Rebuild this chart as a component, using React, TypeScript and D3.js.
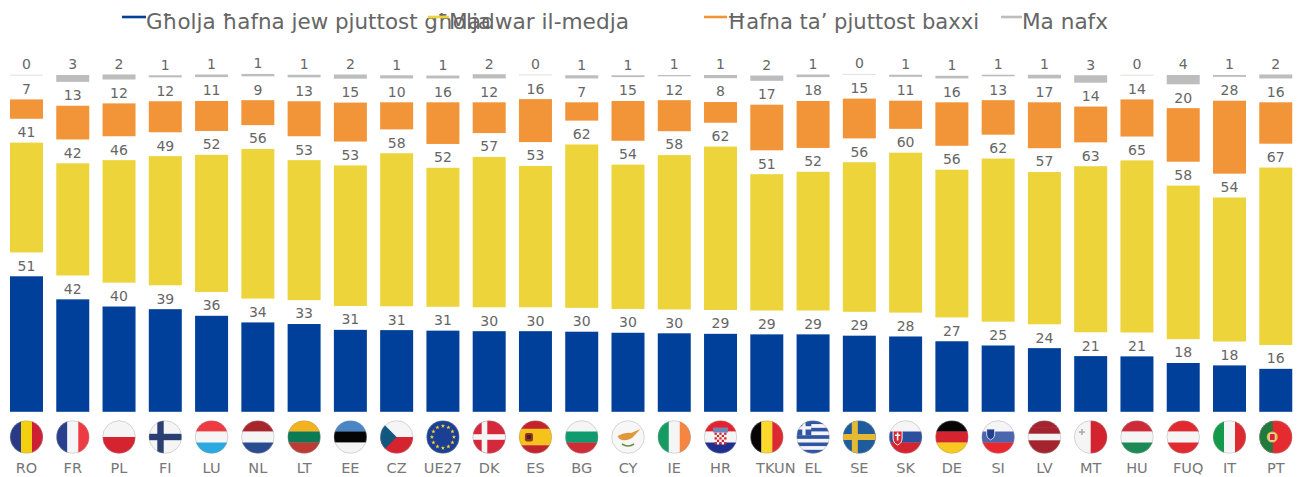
import React from "react";
import * as d3 from "d3";

const categories = ["RO","FR","PL","FI","LU","NL","LT","EE","CZ","UE27","DK","ES","BG","CY","IE","HR","TKUN","EL","SE","SK","DE","SI","LV","MT","HU","FUQ","IT","PT"];
const high = [51.1,42.4,39.7,38.7,36.2,33.7,33.1,30.9,30.8,30.6,30.4,30.4,30.2,29.8,29.6,29.4,29.2,29.2,28.7,28.4,26.6,25,24,21,20.9,18.4,17.5,16.2];
const middle = [41.4,42.3,46.2,48.7,51.7,56.4,52.8,53,57.7,52.4,56.7,53.3,61.6,54.4,58.2,61.6,51.4,52.3,56.4,60.3,55.7,61.5,57.4,62.6,64.9,57.9,54.3,66.9];
const low = [7.3,12.7,12.4,11.7,11.3,9.4,13.2,14.7,10.2,15.7,11.6,16.2,6.9,15,11.7,7.8,17.2,17.7,15,10.6,16.4,13,17.3,13.5,14,20.2,27.5,15.6];
const unknown = [0.3,2.6,1.9,0.8,1,0.9,1,1.6,1.2,1.1,1.6,0.3,1.2,0.7,0.5,1.2,2,1,0.3,0.8,1,0.6,1.4,2.8,0.3,3.5,0.7,1.5];
const seriesNames = ["Għolja ħafna jew pjuttost għolja","Madwar il-medja","Ħafna ta’ pjuttost baxxi","Ma nafx"];
const seriesColors = ["#00409A","#ECD43A","#F29438","#BDBDBD"];
const seriesValues = [high, middle, low, unknown];
const labelGap = 9;

const stripes: Record<string,[string,string[]]> = {
  RO:["v",["#2A3A84","#F2D00F","#CE2035"]],
  FR:["v",["#2B3F8F","#F5F5F5","#EE3A43"]],
  PL:["h",["#F5F5F5","#D5242F"]],
  FI:["h",["#F5F5F5"]],
  LU:["h",["#EE3A43","#F5F5F5","#29A9DF"]],
  NL:["h",["#A8252E","#F5F5F5","#284C8F"]],
  LT:["h",["#F5B21F","#0B7A55","#BE3A34"]],
  EE:["h",["#4A86C5","#050505","#F5F5F5"]],
  CZ:["h",["#F5F5F5","#D5242F"]],
  UE27:["h",["#1B3F94"]],
  DK:["h",["#D5283A"]],
  ES:["h",["#C3242C","#F6C21C","#F6C21C","#C3242C"]],
  BG:["h",["#F5F5F5","#0F9B70","#CF2D36"]],
  CY:["h",["#F7F7F7"]],
  IE:["v",["#169B62","#F5F5F5","#F58540"]],
  HR:["h",["#E5222E","#F5F5F5","#1E2F8F"]],
  TKUN:["v",["#050505","#FBD92D","#DD2A30"]],
  EL:["h",["#2F55A4","#F5F5F5","#2F55A4","#F5F5F5","#2F55A4","#F5F5F5","#2F55A4","#F5F5F5","#2F55A4"]],
  SE:["h",["#1F5C9C"]],
  SK:["h",["#F5F5F5","#2C4FA0","#D5242F"]],
  DE:["h",["#050505","#D5242F","#F8C91E"]],
  SI:["h",["#F5F5F5","#4A66AF","#E8272F"]],
  LV:["h",["#A3242F","#A3242F","#F5F5F5","#A3242F","#A3242F"]],
  MT:["v",["#F5F5F5","#D3232F"]],
  HU:["h",["#CE2B3A","#F5F5F5","#1B8A56"]],
  FUQ:["h",["#E02A30","#F5F5F5","#E02A30"]],
  IT:["v",["#129A4A","#F5F5F5","#DC2A30"]],
  PT:["h",["#E52B2F"]],
};

const width = 1300, height = 477;
const x = d3.scaleBand<string>().domain(categories).range([3.36, 1298.9]).paddingInner(0.287).paddingOuter(0.1435);
const y = d3.scaleLinear().domain([0, 100 + 3 * labelGap]).range([411.8, 75]);
const R = 16.5, flagY = 437;
const star = d3.symbol().type(d3.symbolStar).size(6)() as string;

function Flag({ code, cx }: { code: string; cx: number }) {
  const [dir, cols] = stripes[code];
  const id = "clip-" + code;
  const l = cx - R, t = flagY - R, S = 2 * R;
  const band = S / cols.length;
  const extra: React.ReactNode[] = [];
  if (code === "FI") extra.push(<rect key="a" x={l} y={flagY - 3.2} width={S} height={6.4} fill="#2B3F73" />, <rect key="b" x={l + 8.5} y={t} width={6.4} height={S} fill="#2B3F73" />);
  if (code === "DK") extra.push(<rect key="a" x={l} y={flagY - 2.8} width={S} height={5.6} fill="#F5F5F5" />, <rect key="b" x={l + 9} y={t} width={5.6} height={S} fill="#F5F5F5" />);
  if (code === "SE") extra.push(<rect key="a" x={l} y={flagY - 3} width={S} height={6} fill="#E5B931" />, <rect key="b" x={l + 9} y={t} width={6} height={S} fill="#E5B931" />);
  if (code === "CZ") extra.push(<path key="a" d={`M${l},${t}L${cx},${flagY}L${l},${t + S}Z`} fill="#11577F" />);
  if (code === "UE27") d3.range(12).forEach(i => {
    const a = (i / 12) * 2 * Math.PI;
    extra.push(<path key={i} d={star} transform={`translate(${cx + 11 * Math.sin(a)},${flagY - 11 * Math.cos(a)})`} fill="#F6D32B" />);
  });
  if (code === "ES") extra.push(<rect key="a" x={l + 6} y={flagY - 4} width={8} height={8.5} rx={2} fill="#9A2F24" />, <rect key="b" x={l + 8} y={flagY - 2} width={4} height={4} fill="#3A2A1A" />);
  if (code === "CY") extra.push(
    <path key="a" d={`M${l + 6},${flagY - 1}Q${cx - 3},${flagY - 5} ${cx + 3},${flagY - 4}L${l + 29},${flagY - 8}L${cx + 4},${flagY + 1}Q${cx - 3},${flagY + 5} ${l + 8},${flagY + 2}Z`} fill="#E0993A" />,
    <path key="b" d={`M${cx - 6},${flagY + 7}Q${cx},${flagY + 11} ${cx + 6},${flagY + 7}`} fill="none" stroke="#6B8A4A" strokeWidth={1.6} />);
  if (code === "HR") {
    d3.range(5).forEach(r => d3.range(5).forEach(c => extra.push(<rect key={r + "-" + c} x={cx - 6 + c * 2.4} y={flagY - 4.5 + r * 2.4} width={2.4} height={2.4} fill={(r + c) % 2 ? "#F5F5F5" : "#D8232E"} />)));
    extra.push(<rect key="crown" x={cx - 7.5} y={flagY - 9.5} width={15} height={5} fill="#6F86B8" />);
  }
  if (code === "EL") extra.push(<rect key="a" x={l} y={t} width={14.7} height={14.7} fill="#2F55A4" />, <rect key="b" x={l} y={t + 5.7} width={14.7} height={3.3} fill="#F5F5F5" />, <rect key="c" x={l + 5.7} y={t} width={3.3} height={14.7} fill="#F5F5F5" />);
  if (code === "SK") extra.push(<path key="a" d={`M${l + 4},${flagY - 6}h9v7q0,5 -4.5,7q-4.5,-2 -4.5,-7Z`} fill="#D5242F" stroke="#F5F5F5" />, <rect key="b" x={l + 7.7} y={flagY - 4.5} width={1.6} height={8} fill="#F5F5F5" />, <rect key="c" x={l + 5.8} y={flagY - 2.5} width={5.4} height={1.5} fill="#F5F5F5" />);
  if (code === "SI") extra.push(<path key="a" d={`M${l + 5},${flagY - 8}h8v6q0,3 -4,5q-4,-2 -4,-5Z`} fill="#23408F" stroke="#F5F5F5" strokeWidth={0.8} />);
  if (code === "MT") extra.push(<rect key="a" x={l + 7} y={flagY - 8} width={1.5} height={6} fill="#A9A9A9" />, <rect key="b" x={l + 4.7} y={flagY - 5.7} width={6} height={1.5} fill="#A9A9A9" />);
  if (code === "PT") extra.push(<rect key="a" x={l} y={t} width={13.5} height={S} fill="#1F7A3D" />, <circle key="b" cx={l + 13} cy={flagY} r={5.5} fill="#E2C14A" />, <rect key="c" x={l + 10} y={flagY - 3.5} width={6} height={7} rx={1.5} fill="#D5282E" stroke="#F5F5F5" strokeWidth={0.8} />);
  return (
    <g>
      <clipPath id={id}><circle cx={cx} cy={flagY} r={R} /></clipPath>
      <g clipPath={`url(#${id})`}>
        {cols.map((c, i) => dir === "h"
          ? <rect key={i} x={l} y={t + i * band} width={S} height={band + 0.3} fill={c} />
          : <rect key={i} x={l + i * band} y={t} width={band + 0.3} height={S} fill={c} />)}
        {extra}
      </g>
      <circle cx={cx} cy={flagY} r={R - 0.2} fill="none" stroke="#9A9A9A" strokeOpacity={0.55} strokeWidth={0.7} />
    </g>
  );
}

const legendX = [[122, 146], [428, 449], [704, 727], [1001, 1022]];
const legendW = [345, 180, 252, 86];
const categoryLabelShift: Record<string, number> = { TKUN: 9, FUQ: 5 };

export default function App() {
  const bw = x.bandwidth();
  return (
    <svg width={width} height={height} style={{ position: "absolute", left: 0, top: 0, background: "#fff", fontFamily: "'DejaVu Sans', Verdana, sans-serif" }}>
      {seriesNames.map((n, i) => (
        <g key={n}>
          <line x1={legendX[i][0]} x2={legendX[i][1]} y1={17} y2={17} stroke={seriesColors[i]} strokeWidth={2.6} />
          <text x={legendX[i][1]} y={29} fontSize={20.5} fill="#666" textLength={legendW[i]} lengthAdjust="spacingAndGlyphs">{n}</text>
        </g>
      ))}
      {categories.map((c, i) => {
        let acc = 0;
        const cx = x(c)! + bw / 2;
        return (
          <g key={c}>
            {seriesValues.map((s, k) => {
              const v = s[i];
              const y0 = y(acc), y1 = y(acc + v);
              acc += v + labelGap;
              return (
                <g key={k}>
                  <rect x={x(c)} y={y1} width={bw} height={y0 - y1} fill={seriesColors[k]} fillOpacity={k === 3 && v < 0.5 ? 0.6 : 1} />
                  <text x={cx} y={y1 - 5.6} textAnchor="middle" fontSize={14} fill="#666">{Math.round(v)}</text>
                </g>
              );
            })}
            <Flag code={c} cx={cx} />
            <text x={cx + (categoryLabelShift[c] || 0)} y={473} textAnchor="middle" fontSize={14.5} fill="#777">{c}</text>
          </g>
        );
      })}
    </svg>
  );
}
